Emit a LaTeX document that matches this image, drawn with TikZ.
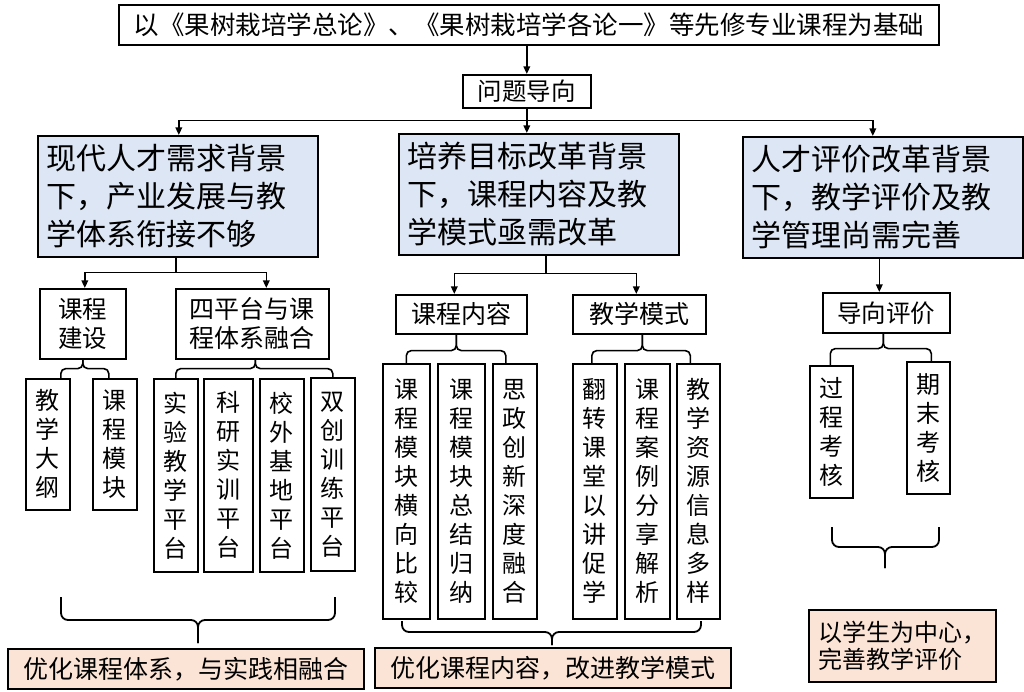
\documentclass[tikz,border=0pt]{standalone}
\usepackage{fontspec}
\setmainfont{Noto Sans CJK SC}
\usetikzlibrary{arrows.meta}
\definecolor{bluefill}{RGB}{220,230,244}
\definecolor{peach}{RGB}{251,228,213}
\begin{document}
\begin{tikzpicture}[x=1pt,y=-1pt,
  box/.style={draw=black,line width=1.6pt,inner sep=0pt,anchor=north west,align=center},
  bluebox/.style={box,fill=bluefill,font=\fontsize{30}{38}\selectfont,align=left,inner xsep=9pt,text width=262pt},
  peachbox/.style={box,fill=peach},
  vbox/.style={box,font=\fontsize{24}{29}\selectfont},
  arr/.style={line width=1.6pt,-{Triangle[length=7.5pt,width=6.5pt]}},
  con/.style={line width=1.6pt,rounded corners=5pt},
  brace/.style={line width=1.8pt,rounded corners=7pt}]
\useasboundingbox (0,0) rectangle (1024,692);
\fill[white] (0,0) rectangle (1024,692);

% top
\node[box,minimum width=820,minimum height=40,font=\fontsize{25.5}{28}\selectfont] (top) at (118,4) {以《果树栽培学总论》、《果树栽培学各论一》等先修专业课程为基础};
\node[box,minimum width=128,minimum height=33,font=\fontsize{24.5}{28}\selectfont] (wt) at (462,74) {问题导向};

% blue boxes
\node[bluebox,minimum height=121] (L) at (37,135) {现代人才需求背景\\下，产业发展与教\\学体系衔接不够};
\node[bluebox,minimum height=121] (M) at (398,133) {培养目标改革背景\\下，课程内容及教\\学模式亟需改革};
\node[bluebox,minimum height=121] (R) at (742,136) {人才评价改革背景\\下，教学评价及教\\学管理尚需完善};

% left branch
\node[box,minimum width=86,minimum height=70,font=\fontsize{24.5}{29}\selectfont] (kc) at (39,288) {课程\\建设};
\node[box,minimum width=153,minimum height=70,font=\fontsize{25}{29}\selectfont] (sp) at (175,288) {四平台与课\\程体系融合};
\node[vbox,minimum width=44,minimum height=131] (l1) at (25,378) {教\\学\\大\\纲};
\node[vbox,minimum width=44,minimum height=131] (l2) at (92,378) {课\\程\\模\\块};
\node[vbox,minimum width=44,minimum height=193] (p1) at (153,378) {实\\验\\教\\学\\平\\台};
\node[vbox,minimum width=49,minimum height=193] (p2) at (203,378) {科\\研\\实\\训\\平\\台};
\node[vbox,minimum width=44,minimum height=193] (p3) at (259,378) {校\\外\\基\\地\\平\\台};
\node[vbox,minimum width=44,minimum height=193] (p4) at (310,377) {双\\创\\训\\练\\平\\台};
\node[peachbox,minimum width=356,minimum height=40,font=\fontsize{25}{28}\selectfont] (bl) at (7,648) {优化课程体系，与实践相融合};

% middle branch
\node[box,minimum width=131,minimum height=39,font=\fontsize{25}{28}\selectfont] (nr) at (395,294) {课程内容};
\node[box,minimum width=133,minimum height=39,font=\fontsize{25}{28}\selectfont] (ms) at (572,294) {教学模式};
\node[vbox,minimum width=47,minimum height=255] (m1) at (382,363) {课\\程\\模\\块\\横\\向\\比\\较};
\node[vbox,minimum width=47,minimum height=255] (m2) at (437,363) {课\\程\\模\\块\\总\\结\\归\\纳};
\node[vbox,minimum width=44,minimum height=255] (m3) at (492,363) {思\\政\\创\\新\\深\\度\\融\\合};
\node[vbox,minimum width=44,minimum height=255] (m4) at (572,363) {翻\\转\\课\\堂\\以\\讲\\促\\学};
\node[vbox,minimum width=45,minimum height=255] (m5) at (624,363) {课\\程\\案\\例\\分\\享\\解\\析};
\node[vbox,minimum width=43,minimum height=255] (m6) at (676,363) {教\\学\\资\\源\\信\\息\\多\\样};
\node[peachbox,minimum width=356,minimum height=40,font=\fontsize{25}{28}\selectfont] (bm) at (374,647) {优化课程内容，改进教学模式};

% right branch
\node[box,minimum width=127,minimum height=40,font=\fontsize{24.5}{28}\selectfont] (dx) at (822,292) {导向评价};
\node[vbox,minimum width=43,minimum height=132] (r1) at (809,365) {过\\程\\考\\核};
\node[vbox,minimum width=43,minimum height=132] (r2) at (906,361) {期\\末\\考\\核};
\node[peachbox,minimum width=187,minimum height=72,font=\fontsize{24}{27}\selectfont,align=left] (br) at (808,609) {以学生为中心，\\完善教学评价};

% brace tips
\coordinate (tl) at (198,643);
\coordinate (tm) at (552,645);
\coordinate (tr) at (885,568);

% top connectors
\draw[arr] (wt.north |- top.south) -- (wt.north);
\draw[line width=1.6pt] (wt.south) -- ++(0,12) coordinate (h0);
\draw[arr] (h0) -| ([xshift=1]L.north);
\draw[arr] (h0) -- ([xshift=-12]M.north);
\draw[arr] (h0) -| ([xshift=-10]R.north);

% left connectors
\draw[line width=1.6pt] ([xshift=-2]L.south) -- ++(0,15) coordinate (h1);
\draw[arr] (h1) -| ([xshift=2]kc.north);
\draw[arr] (h1) -| ([xshift=14]sp.north);
\draw[con] (kc.south) -- ++(0,9) -| ([xshift=13]l1.north);
\draw[con] (kc.south) -- ++(0,9) -| ([xshift=-6]l2.north);
\draw[con] ([xshift=3]sp.south) -- ++(0,9) -| (p1.north);
\draw[con] ([xshift=3]sp.south) -- ++(0,9) -| (p4.north);

% middle connectors
\draw[line width=1.6pt] ([xshift=7]M.south) -- ++(0,18) coordinate (h2);
\draw[arr] (h2) -| ([xshift=-7]nr.north);
\draw[arr] (h2) -| ([xshift=-3]ms.north);
\draw[con] ([xshift=-5]nr.south) -- ++(0,16) -| (m1.north);
\draw[con] ([xshift=-5]nr.south) -- ++(0,16) -| ([xshift=-9]m3.north);
\draw[con] ([xshift=3]ms.south) -- ++(0,16) -| ([xshift=-3]m4.north);
\draw[con] ([xshift=3]ms.south) -- ++(0,16) -| ([xshift=-8]m6.north);

% right connectors
\draw[arr] ([xshift=-7]dx.north |- R.south) -- ([xshift=-7]dx.north);
\draw[con] ([xshift=-3]dx.south) -- ++(0,15) -| ([xshift=-1]r1.north);
\draw[con] ([xshift=-3]dx.south) -- ++(0,15) -| ([xshift=3]r2.north);

% braces
\draw[brace] (61,597) |- (tl |- 0,620) -- (tl);
\draw[brace] (335,597) |- (tl |- 0,620) -- (tl);
\draw[brace] (402,621) |- (tm |- 0,632) -- (tm);
\draw[brace] (701,621) |- (tm |- 0,632) -- (tm);
\draw[brace] (832,527) |- (tr |- 0,547) -- (tr);
\draw[brace] (939,527) |- (tr |- 0,547) -- (tr);
\end{tikzpicture}
\end{document}
